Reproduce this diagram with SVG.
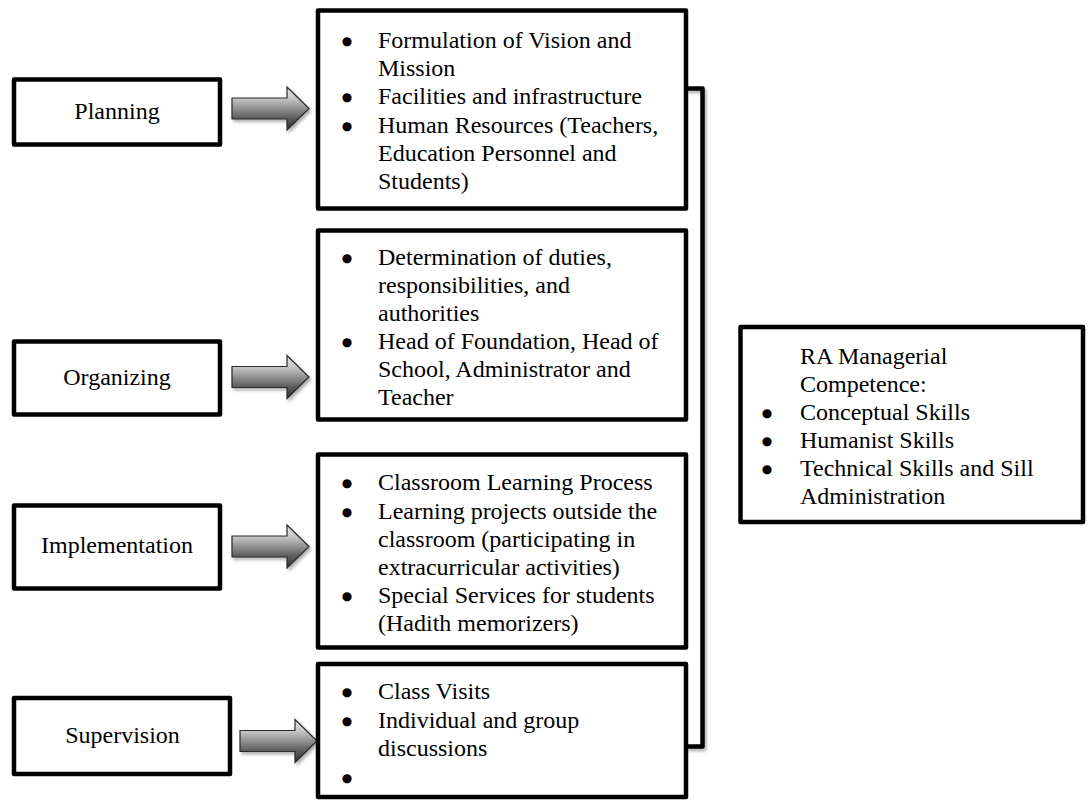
<svg xmlns="http://www.w3.org/2000/svg" width="1089" height="800" viewBox="0 0 1089 800">
<style>
.box{fill:#fff;stroke:#000;stroke-width:4.5;stroke-linejoin:round}
.line{fill:none;stroke:#000;stroke-width:4.5;stroke-linejoin:round}
.arrow{fill:url(#ag);stroke:#2a2a2a;stroke-width:1.2;stroke-linejoin:miter}
text{font-family:"Liberation Serif","Times New Roman",serif;font-size:24px;fill:#000}
.c{text-anchor:middle}
.b{text-anchor:middle;font-family:"DejaVu Sans",sans-serif;font-size:12px}
</style>
<defs>
<linearGradient id="ag" x1="0" y1="0" x2="0" y2="1">
<stop offset="0" stop-color="#e6e6e6"/>
<stop offset="0.28" stop-color="#c4c4c4"/>
<stop offset="0.72" stop-color="#5e5e5e"/>
<stop offset="1" stop-color="#2e2e2e"/>
</linearGradient>
<filter id="sh" x="-20%" y="-20%" width="150%" height="150%">
<feDropShadow dx="2" dy="2.5" stdDeviation="1.5" flood-color="#000" flood-opacity="0.3"/>
</filter>
<path id="arr" d="M232,98 H287 V87 L309,108.5 L287,130 V119 H232 Z"/>
</defs>
<rect width="1089" height="800" fill="#fff"/>

<g id="connectors">
<line class="line" x1="114.5" y1="146" x2="114.5" y2="698" filter="url(#sh)"/>
<path class="line" d="M686,88.5 H702.5 V746.5 H686" filter="url(#sh)"/>
<line class="line" x1="702.5" y1="420" x2="740" y2="420" filter="url(#sh)"/>
<use href="#arr" class="arrow" filter="url(#sh)"/>
<use href="#arr" class="arrow" transform="translate(0,268.5)" filter="url(#sh)"/>
<use href="#arr" class="arrow" transform="translate(0,438)" filter="url(#sh)"/>
<use href="#arr" class="arrow" transform="translate(8,632.5)" filter="url(#sh)"/>
</g>

<g id="planning">
<rect class="box" x="14" y="79.5" width="206" height="65"/>
<text class="c" x="117" y="119">Planning</text>
</g>
<g id="organizing">
<rect class="box" x="14" y="341.5" width="206" height="73"/>
<text class="c" x="117" y="385">Organizing</text>
</g>
<g id="implementation">
<rect class="box" x="14" y="505.5" width="206" height="83"/>
<text class="c" x="117" y="553">Implementation</text>
</g>
<g id="supervision">
<rect class="box" x="14" y="698" width="216" height="76"/>
<text class="c" x="122.5" y="743">Supervision</text>
</g>

<g id="planning-details">
<rect class="box" x="318" y="10.5" width="368" height="198"/>
<text class="b" x="347" y="45">●</text>
<text x="378" y="48">Formulation of Vision and</text>
<text x="378" y="76">Mission</text>
<text class="b" x="347" y="101">●</text>
<text x="378" y="104">Facilities and infrastructure</text>
<text class="b" x="347" y="130">●</text>
<text x="378" y="133">Human Resources (Teachers,</text>
<text x="378" y="161">Education Personnel and</text>
<text x="378" y="189">Students)</text>
</g>

<g id="organizing-details">
<rect class="box" x="318" y="230.5" width="368" height="189"/>
<text class="b" x="347" y="262">●</text>
<text x="378" y="265">Determination of duties,</text>
<text x="378" y="293">responsibilities, and</text>
<text x="378" y="321">authorities</text>
<text class="b" x="347" y="346">●</text>
<text x="378" y="349">Head of Foundation, Head of</text>
<text x="378" y="377">School, Administrator and</text>
<text x="378" y="405">Teacher</text>
</g>

<g id="implementation-details">
<rect class="box" x="318" y="454.5" width="368" height="193"/>
<text class="b" x="347" y="487">●</text>
<text x="378" y="490">Classroom Learning Process</text>
<text class="b" x="347" y="516">●</text>
<text x="378" y="519">Learning projects outside the</text>
<text x="378" y="547">classroom (participating in</text>
<text x="378" y="575">extracurricular activities)</text>
<text class="b" x="347" y="600">●</text>
<text x="378" y="603">Special Services for students</text>
<text x="378" y="631">(Hadith memorizers)</text>
</g>

<g id="supervision-details">
<rect class="box" x="318" y="664" width="368" height="133"/>
<text class="b" x="347" y="696">●</text>
<text x="378" y="699">Class Visits</text>
<text class="b" x="347" y="725">●</text>
<text x="378" y="728">Individual and group</text>
<text x="378" y="756">discussions</text>
<text class="b" x="347" y="782">●</text>
</g>

<g id="ra-competence">
<rect class="box" x="740.5" y="327" width="342.5" height="195"/>
<text x="800" y="364">RA Managerial</text>
<text x="800" y="392">Competence:</text>
<text class="b" x="767" y="417">●</text>
<text x="800" y="420">Conceptual Skills</text>
<text class="b" x="767" y="445">●</text>
<text x="800" y="448">Humanist Skills</text>
<text class="b" x="767" y="473">●</text>
<text x="800" y="476">Technical Skills and Sill</text>
<text x="800" y="504">Administration</text>
</g>
</svg>
